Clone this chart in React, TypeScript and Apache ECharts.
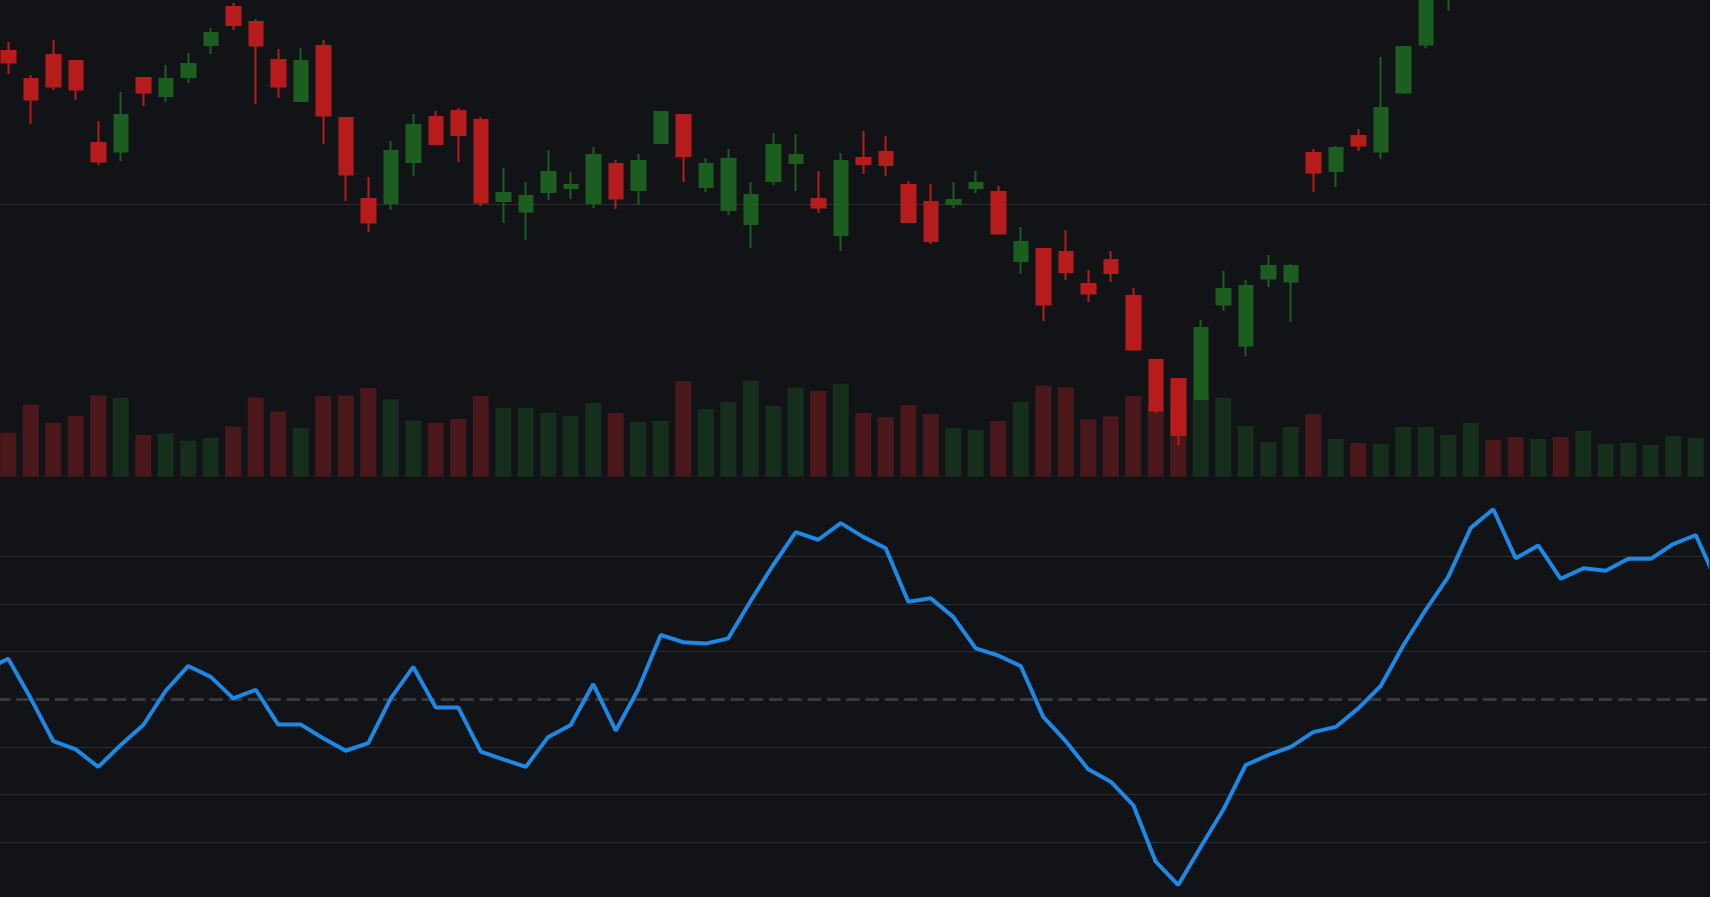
import React, { useEffect, useRef } from "react";
import * as echarts from "echarts";

// Trading sessions (first and last are just outside the visible window)
const categories = [
  "D00", "D01", "D02", "D03", "D04", "D05", "D06", "D07", "D08", "D09",
  "D10", "D11", "D12", "D13", "D14", "D15", "D16", "D17", "D18", "D19",
  "D20", "D21", "D22", "D23", "D24", "D25", "D26", "D27", "D28", "D29",
  "D30", "D31", "D32", "D33", "D34", "D35", "D36", "D37", "D38", "D39",
  "D40", "D41", "D42", "D43", "D44", "D45", "D46", "D47", "D48", "D49",
  "D50", "D51", "D52", "D53", "D54", "D55", "D56", "D57", "D58", "D59",
  "D60", "D61", "D62", "D63", "D64", "D65", "D66", "D67", "D68", "D69",
  "D70", "D71", "D72", "D73", "D74", "D75", "D76", "D77",
];
// visible window of the category axis
const windowStart = 1;
const windowEnd = 76;

const opens = [
  53.0, 52.65, 51.25, 52.45, 52.15, 48.05, 47.62, 51.3, 50.4, 51.35,
  52.95, 54.85, 54.1, 52.2, 50.15, 52.9, 49.3, 45.25, 45.05, 47.1,
  49.35, 49.65, 49.2, 45.15, 44.62, 45.6, 45.8, 45.05, 47.0, 45.7,
  48.05, 49.45, 45.85, 44.7, 44.0, 46.15, 47.05, 45.25, 43.45, 47.3,
  47.6, 45.95, 45.1, 45.0, 45.8, 45.6, 42.15, 42.75, 42.6, 41.0,
  42.2, 40.4, 37.2, 36.25, 35.25, 39.97, 37.92, 41.27, 41.12, 47.55,
  46.65, 48.4, 47.62, 50.57, 52.97, 55.6, 57.3, 58.8, 58.2, 57.7,
  59.0, 58.4, 59.6, 60.2, 60.9, 61.5, 62.2, 62.8,
];
const closes = [
  52.55, 52.07, 50.22, 50.87, 50.72, 47.12, 49.45, 50.57, 51.25, 52.0,
  53.55, 53.95, 52.92, 50.87, 52.15, 49.42, 46.47, 44.07, 47.65, 48.95,
  48.0, 48.45, 45.07, 45.55, 45.4, 46.6, 45.95, 47.45, 45.27, 47.15,
  49.6, 47.4, 47.0, 47.25, 45.45, 47.95, 47.45, 44.82, 47.15, 47.0,
  46.95, 44.1, 43.15, 45.2, 46.05, 43.52, 43.1, 39.97, 41.6, 40.52,
  41.55, 37.72, 34.67, 33.45, 38.8, 40.75, 40.9, 41.9, 41.9, 46.57,
  47.8, 47.92, 49.8, 52.85, 56.0, 57.4, 58.6, 58.1, 57.6, 58.9,
  58.3, 59.6, 60.3, 60.9, 61.5, 62.3, 62.9, 63.4,
];
const lows = [
  52.2, 51.5, 49.0, 50.7, 50.2, 46.95, 47.15, 49.9, 50.1, 51.05,
  52.5, 53.7, 50.0, 50.3, 50.1, 48.0, 45.15, 43.6, 44.7, 46.4,
  48.0, 47.1, 44.9, 44.05, 43.2, 45.2, 45.25, 44.8, 44.75, 44.95,
  48.05, 46.1, 45.6, 44.45, 42.8, 45.95, 45.65, 44.55, 42.65, 46.5,
  46.4, 44.1, 43.0, 44.8, 45.55, 43.5, 41.5, 39.15, 41.2, 40.1,
  41.1, 37.7, 34.52, 32.92, 35.25, 39.65, 37.37, 40.85, 39.1, 45.6,
  45.85, 47.65, 47.25, 50.5, 52.77, 54.67, 56.9, 57.7, 57.2, 57.4,
  57.9, 58.1, 59.3, 59.9, 60.6, 61.2, 61.9, 62.5,
];
const highs = [
  53.35, 53.1, 51.45, 53.2, 52.15, 49.15, 50.6, 51.3, 51.95, 52.55,
  53.8, 55.05, 54.25, 52.75, 52.8, 53.2, 49.3, 46.35, 48.15, 49.5,
  49.65, 49.8, 49.35, 46.8, 46.1, 47.7, 46.6, 47.85, 47.2, 47.5,
  49.6, 49.45, 47.3, 47.75, 46.1, 48.55, 48.5, 46.65, 47.55, 48.65,
  48.4, 46.15, 46.0, 46.1, 46.65, 45.9, 43.85, 42.75, 43.7, 41.7,
  42.65, 40.8, 37.2, 36.3, 39.2, 41.65, 41.2, 42.45, 42.0, 47.75,
  47.9, 48.75, 52.35, 52.85, 56.3, 57.8, 59.0, 59.3, 58.7, 59.2,
  59.4, 60.0, 60.6, 61.2, 61.9, 62.7, 63.3, 63.8,
];
const volumes = [
  55, 44, 72, 53.7, 60.7, 81.3, 79, 41.7, 43.3, 36,
  38.7, 50.3, 79.3, 65, 48.7, 80.7, 81, 88.7, 77.3, 56.3,
  53.7, 57.7, 80.7, 68.7, 68.7, 64, 60.7, 73.7, 63.7, 54.7,
  55.7, 95.7, 67.7, 74.7, 96.3, 70.7, 89, 85.7, 93, 63.7,
  59.7, 71.7, 62.7, 48.7, 46.7, 55.7, 75, 91, 89.4, 57.4,
  60.4, 80.7, 72, 68, 80, 79, 50.7, 34.7, 49.7, 62.7,
  37.7, 33.7, 32.7, 49.7, 49.7, 42, 53.7, 36.7, 39.7, 37.7,
  39.7, 45.7, 32.7, 33.7, 31.7, 40.7, 38.7, 42,
];
const oscillator = [
  56.2, 58.5, 50.2, 41.2, 39.5, 35.8, 40.4, 44.6, 51.8, 57.0,
  54.7, 50.2, 52.0, 44.7, 44.7, 41.8, 39.2, 40.8, 50.2, 56.8,
  48.3, 48.3, 39.0, 37.4, 35.8, 42.1, 44.6, 53.2, 43.4, 52.1,
  63.5, 62.0, 61.7, 62.8, 70.7, 78.2, 85.1, 83.5, 87.0, 84.1,
  81.7, 70.5, 71.2, 67.3, 60.7, 59.2, 57.0, 46.3, 41.2, 35.3,
  32.7, 27.8, 15.9, 11.0, 19.0, 26.8, 36.2, 38.3, 40.0, 43.1,
  44.2, 48.1, 52.8, 61.3, 68.8, 75.7, 86.0, 89.9, 79.6, 82.3,
  75.3, 77.5, 77.0, 79.5, 79.5, 82.6, 84.5, 74.0,
];
const oscMidline = 50;

const BG = "#121317";
const UP = "#1b5e20";
const DOWN = "#b71c1c";
const VOL_UP = "#162e1c";
const VOL_DOWN = "#4a181b";
const GRID = "#2c2d31";
const MID = "#38393d";
const BLUE = "#1e88e5";
const NONE = "rgba(0,0,0,0)";

export default function App() {
  const ref = useRef<HTMLDivElement>(null);

  useEffect(() => {
    document.body.style.margin = "0";
    document.body.style.background = BG;
    document.body.style.overflow = "hidden";
    const chart = echarts.init(ref.current as HTMLDivElement, undefined, { renderer: "svg" });

    const candleData = categories.map((_, i) => [opens[i], closes[i], lows[i], highs[i]]);
    const volumeData = volumes.map((v, i) => ({
      value: v,
      itemStyle: { color: closes[i] >= opens[i] ? VOL_UP : VOL_DOWN },
    }));

    const gl = 0;
    const gr = 3;
    const hiddenAxis = {
      axisLine: { show: false },
      axisTick: { show: false },
      axisLabel: { show: false },
    };

    const option: any = {
      animation: false,
      backgroundColor: BG,
      grid: [
        { left: gl, right: gr, top: 0, height: 504 },
        { left: gl, right: gr, top: 376.7, height: 100 },
        { left: gl, right: gr, top: 508.8, height: 381 },
      ],
      xAxis: [0, 1, 2].map((g) => ({
        type: "category",
        gridIndex: g,
        data: categories,
        min: windowStart,
        max: windowEnd,
        boundaryGap: true,
        show: false,
      })),
      yAxis: [
        {
          type: "value",
          gridIndex: 0,
          min: 30,
          max: 55.2,
          interval: 15,
          ...hiddenAxis,
          splitLine: { show: true, lineStyle: { color: [NONE, GRID, NONE], width: 1 } },
        },
        {
          type: "value",
          gridIndex: 1,
          min: 0,
          max: 100,
          show: false,
          splitLine: { show: false },
        },
        {
          type: "value",
          gridIndex: 2,
          min: 10,
          max: 90,
          interval: 10,
          ...hiddenAxis,
          splitLine: {
            show: true,
            lineStyle: {
              color: [NONE, GRID, GRID, GRID, NONE, GRID, GRID, GRID, NONE],
              width: 1,
            },
          },
        },
      ],
      series: [
        {
          type: "bar",
          xAxisIndex: 1,
          yAxisIndex: 1,
          data: volumeData,
          barWidth: 16,
          silent: true,
          clip: true,
          z: 1,
        },
        {
          type: "candlestick",
          xAxisIndex: 0,
          yAxisIndex: 0,
          data: candleData,
          barWidth: 14,
          silent: true,
          clip: true,
          z: 3,
          itemStyle: {
            color: UP,
            color0: DOWN,
            borderColor: UP,
            borderColor0: DOWN,
            borderWidth: 2,
          },
        },
        {
          type: "line",
          xAxisIndex: 2,
          yAxisIndex: 2,
          data: oscillator,
          symbol: "none",
          clip: false,
          silent: true,
          z: 10,
          lineStyle: { color: BLUE, width: 4 },
          markLine: {
            silent: true,
            z: 1,
            symbol: ["none", "none"],
            label: { show: false },
            lineStyle: { color: MID, width: 3, type: [13.5, 5.8] },
            data: [{ yAxis: oscMidline }],
          },
        },
      ],
    };

    chart.setOption(option);
    return () => chart.dispose();
  }, []);

  return (
    <div
      ref={ref}
      style={{ position: "absolute", left: -3, top: 0, width: 1713, height: 897, background: BG }}
    />
  );
}
